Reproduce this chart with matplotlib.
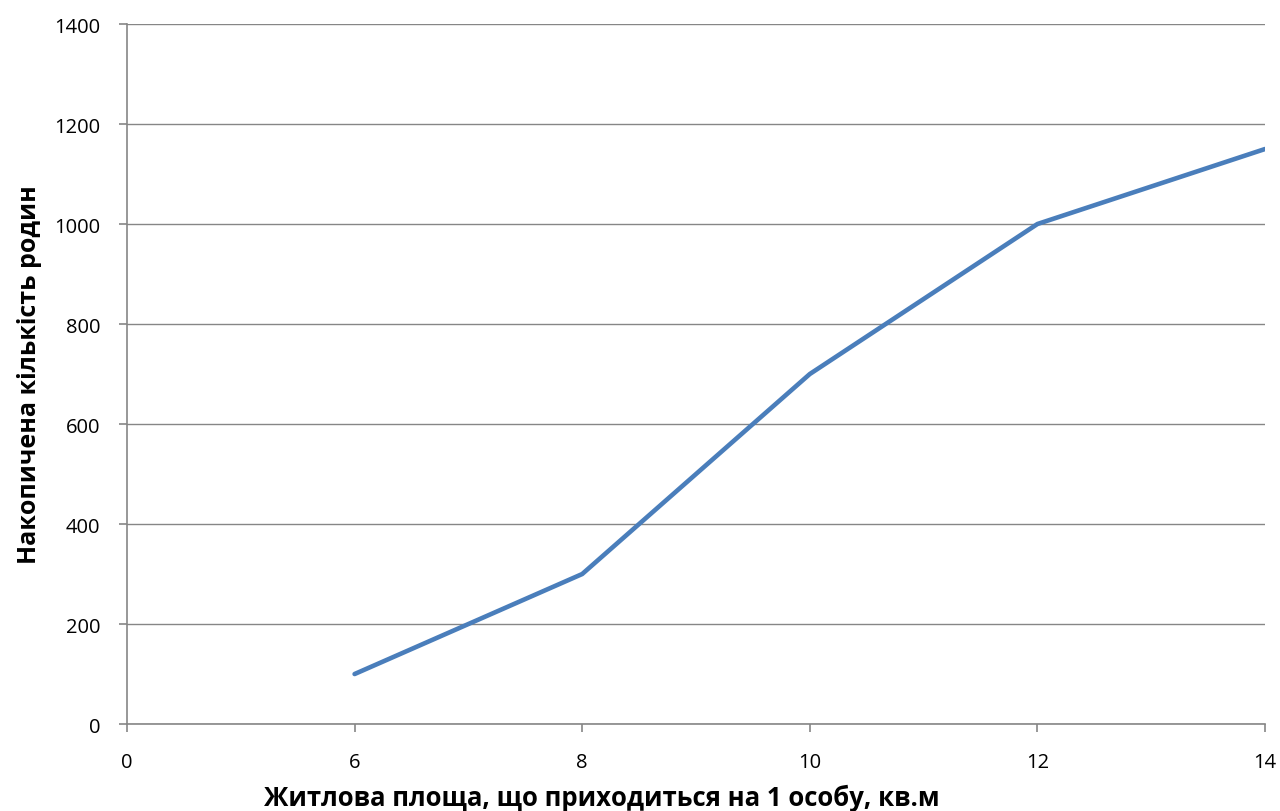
import matplotlib.pyplot as plt

categories = ['0', '6', '8', '10', '12', '14']
values = [None, 100, 300, 700, 1000, 1150]
y_ticks = [0, 200, 400, 600, 800, 1000, 1200, 1400]

plt.rcParams['font.family'] = ['Open Sans', 'DejaVu Sans']

fig = plt.figure(figsize=(12.8, 8.12), dpi=100)
ax = fig.add_axes([0.0992, 0.1071, 0.8891, 0.8621])

pos = list(range(len(categories)))
xs = [p for p, v in zip(pos, values) if v is not None]
ys = [v for v in values if v is not None]
ax.plot(xs, ys, color='#4a7ebb', linewidth=3.3, solid_capstyle='round', zorder=3)

ax.set_xlim(0, len(categories) - 1)
ax.set_ylim(0, 1400)
ax.set_xticks(pos)
ax.set_xticklabels(categories)
ax.set_yticks(y_ticks)
ax.grid(axis='y', color='#868686', linewidth=1)
ax.set_axisbelow(True)

for s in ['top', 'right']:
    ax.spines[s].set_visible(False)
for s in ['left', 'bottom']:
    ax.spines[s].set_color('#868686')
    ax.spines[s].set_linewidth(1.2)
ax.tick_params(axis='both', colors='#868686', length=6, width=1.2, labelsize=14.5,
               labelcolor='black')
ax.tick_params(axis='x', pad=14)
ax.tick_params(axis='y', pad=13)

ax.set_xlabel('Житлова площа, що приходиться на 1 особу, кв.м', fontsize=18.5,
              fontweight='bold', labelpad=8)
ax.xaxis.set_label_coords(0.417, -0.085)
ax.set_ylabel('Накопичена кількість родин', fontsize=18, fontweight='bold', labelpad=9)

fig.savefig('out.png', dpi=100)
